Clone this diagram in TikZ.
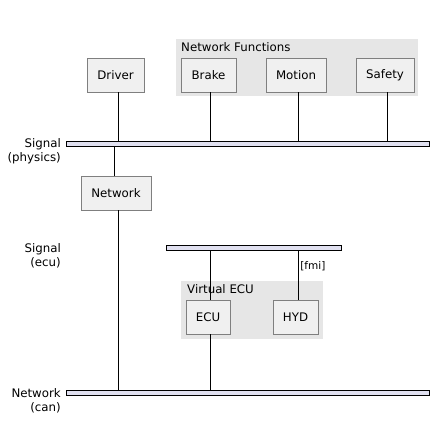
\documentclass[tikz,border=0pt]{standalone}
\usepackage{fontspec}
\setmainfont{DejaVu Sans}
\usetikzlibrary{backgrounds}

\definecolor{boxfill}{HTML}{F0F0F0}
\definecolor{boxline}{HTML}{7F7F7F}
\definecolor{groupfill}{HTML}{E6E6E6}
\definecolor{busfill}{HTML}{E0E0F0}

\tikzset{
    block/.style={draw=boxline, fill=boxfill, minimum height=34pt, inner sep=0pt, font=\fontsize{11.8}{14}\selectfont},
    bus/.style={draw=black, fill=busfill, minimum height=5pt, inner sep=0pt},
    group/.style={fill=groupfill, inner sep=0pt, anchor=north west},
    grouplabel/.style={anchor=north west, inner sep=0pt, font=\fontsize{11.8}{14}\selectfont},
    layer/.style={anchor=east, align=right, inner sep=0pt, font=\fontsize{11.8}{14}\selectfont},
    wire/.style={black, line width=0.7pt}
}

\begin{document}
\begin{tikzpicture}[x=1pt, y=-1pt]
    % white background
    \begin{scope}[on background layer]
        \fill [white] (0,0) rectangle (436,447);
    \end{scope}
    \useasboundingbox (0,0) rectangle (436,447);

    % groups
    \node[group, minimum width=242pt, minimum height=57pt] (functions) at (176,39) {};
    \node[grouplabel] (functionslabel) at (181,42) {Network Functions};
    \node[group, minimum width=142pt, minimum height=58pt] (virtual) at (181,281) {};
    \node[grouplabel] (virtuallabel) at (187,284) {Virtual ECU};

    % buses
    \node[bus, minimum width=363pt] (physics) at (247.5,143.5) {};
    \node[bus, minimum width=175pt] (ecubus) at (253.5,247.5) {};
    \node[bus, minimum width=363pt] (can) at (247.5,392.5) {};

    % bus labels
    \node[layer] (physicslabel) at (61,151.5) {Signal\\(physics)};
    \node[layer] (eculabel) at (61,255.5) {Signal\\(ecu)};
    \node[layer] (canlabel) at (61,400.5) {Network\\(can)};

    % boxes
    \node[block, minimum width=57pt] (driver) at (115.5,75) {Driver};
    \node[block, minimum width=55pt] (brake) at (208.5,75) {Brake};
    \node[block, minimum width=60pt] (motion) at (296,75) {Motion};
    \node[block, minimum width=58pt] (safety) at (385,75) {Safety};
    \node[block, minimum width=70pt] (network) at (116,193) {Network};
    \node[block, minimum width=44pt] (ecu) at (208,317) {ECU};
    \node[block, minimum width=45pt] (hyd) at (295.5,317) {HYD};

    % connections
    \draw[wire] ([xshift=2.5pt]driver.south) -- ([xshift=2.5pt]driver.south |- physics.north);
    \draw[wire] ([xshift=1.5pt]brake.south) -- ([xshift=1.5pt]brake.south |- physics.north);
    \draw[wire] ([xshift=2pt]motion.south) -- ([xshift=2pt]motion.south |- physics.north);
    \draw[wire] ([xshift=2pt]safety.south) -- ([xshift=2pt]safety.south |- physics.north);
    \draw[wire] ([xshift=-2pt]network.north) -- ([xshift=-2pt]network.north |- physics.south);
    \draw[wire] ([xshift=2pt]network.south) -- ([xshift=2pt]network.south |- can.north);
    \draw[wire] ([xshift=2pt]ecu.north) -- ([xshift=2pt]ecu.north |- ecubus.south);
    \draw[wire] ([xshift=2pt]ecu.south) -- ([xshift=2pt]ecu.south |- can.north);
    \draw[wire] ([xshift=2.5pt]hyd.north) -- node[pos=0.67, right, inner sep=2pt, font=\fontsize{10.5}{12}\selectfont] {[fmi]} ([xshift=2.5pt]hyd.north |- ecubus.south);

\end{tikzpicture}
\end{document}
